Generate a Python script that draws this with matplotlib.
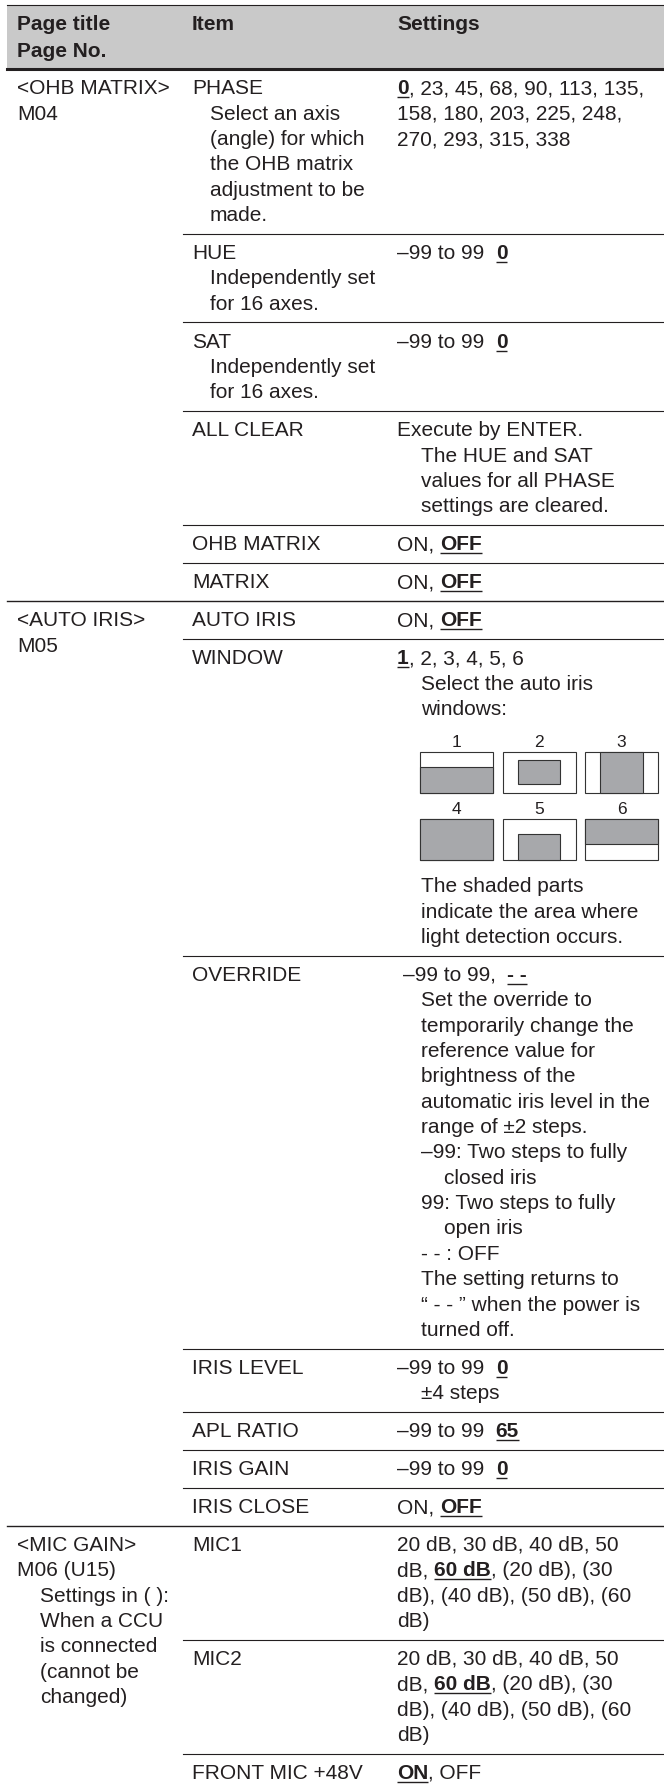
import matplotlib
matplotlib.use("agg")
import matplotlib.pyplot as plt
from matplotlib.font_manager import FontProperties
from matplotlib.patches import Rectangle

# ---- table content -------------------------------------------------------
header = [["Page title", "Page No."], ["Item"], ["Settings"]]

page_titles = [
    ["<OHB MATRIX>", "M04"],
    ["<AUTO IRIS>", "M05"],
    ["<MIC GAIN>", "M06 (U15)", "\tSettings in ( ):", "\tWhen a CCU",
     "\tis connected", "\t(cannot be", "\tchanged)"],
]
rows_per_page = [6, 7, 3]

items = [
    ["PHASE", "\tSelect an axis", "\t(angle) for which", "\tthe OHB matrix",
     "\tadjustment to be", "\tmade."],
    ["HUE", "\tIndependently set", "\tfor 16 axes."],
    ["SAT", "\tIndependently set", "\tfor 16 axes."],
    ["ALL CLEAR"],
    ["OHB MATRIX"],
    ["MATRIX"],
    ["AUTO IRIS"],
    ["WINDOW"],
    ["OVERRIDE"],
    ["IRIS LEVEL"],
    ["APL RATIO"],
    ["IRIS GAIN"],
    ["IRIS CLOSE"],
    ["MIC1"],
    ["MIC2"],
    ["FRONT MIC +48V"],
]

# "**x**" marks the bold, underlined default value
settings = [
    ["**0**, 23, 45, 68, 90, 113, 135,", "158, 180, 203, 225, 248,",
     "270, 293, 315, 338"],
    ["\u201399 to 99  **0**"],
    ["\u201399 to 99  **0**"],
    ["Execute by ENTER.", "\tThe HUE and SAT", "\tvalues for all PHASE",
     "\tsettings are cleared."],
    ["ON, **OFF**"],
    ["ON, **OFF**"],
    ["ON, **OFF**"],
    ["**1**, 2, 3, 4, 5, 6", "\tSelect the auto iris", "\twindows:",
     "", "", "", "", "", "",
     "\tThe shaded parts", "\tindicate the area where", "\tlight detection occurs."],
    [" \u201399 to 99,  **- -**", "\tSet the override to", "\ttemporarily change the",
     "\treference value for", "\tbrightness of the", "\tautomatic iris level in the",
     "\trange of \u00b12 steps.", "\t\u201399: Two steps to fully", "\t\tclosed iris",
     "\t99: Two steps to fully", "\t\topen iris", "\t- - : OFF",
     "\tThe setting returns to", "\t\u201c - - \u201d when the power is", "\tturned off."],
    ["\u201399 to 99  **0**", "\t\u00b14 steps"],
    ["\u201399 to 99  **65**"],
    ["\u201399 to 99  **0**"],
    ["ON, **OFF**"],
    ["20 dB, 30 dB, 40 dB, 50", "dB, **60 dB**, (20 dB), (30",
     "dB), (40 dB), (50 dB), (60", "dB)"],
    ["20 dB, 30 dB, 40 dB, 50", "dB, **60 dB**, (20 dB), (30",
     "dB), (40 dB), (50 dB), (60", "dB)"],
    ["**ON**, OFF"],
]

# auto iris window sketches: shaded part as (x0, y0, x1, y1) fractions, y from top
window_labels = ["1", "2", "3", "4", "5", "6"]
window_shade = [(0, .37, 1, 1), (.21, .2, .79, .78), (.21, 0, .79, 1),
                (0, 0, 1, 1), (.21, .36, .79, 1), (0, 0, 1, .6)]
window_row = 7          # WINDOW row index
window_anchor_line = 2  # "windows:" line

# ---- layout (pixels) -----------------------------------------------------
W, H = 664, 1785
FONT = ["Liberation Sans", "DejaVu Sans"]
FS = 15
INK = "#231f20"
HEAD_GRAY = "#c9c9c9"
SHADE = "#a7a8ab"

col_x = [17, 192, 397]
indent = [[0, 23, 46], [0, 18, 36], [0, 24, 47]]
LINE = 25.35
ROW_PAD = 12.6
BASE_OFF = 25.3
HEAD_BOTTOM = 69
LEFT = 7
PART_LEFT = 183

fig = plt.figure(figsize=(W / 100, H / 100), dpi=100)
ax = fig.add_axes([0, 0, 1, 1])
ax.set_xlim(0, W)
ax.set_ylim(H, 0)
ax.axis("off")
renderer = fig.canvas.get_renderer()

props = {w: FontProperties(family=FONT, size=FS, weight=w) for w in ("normal", "bold")}
label_prop = FontProperties(family=FONT, size=12.5)


def text_width(s, weight):
    prop = props[weight]
    w1 = renderer.get_text_width_height_descent(s + "|", prop, ismath=False)[0]
    w0 = renderer.get_text_width_height_descent("|", prop, ismath=False)[0]
    return w1 - w0


def draw_line(col, y, s):
    level = len(s) - len(s.lstrip("\t"))
    s = s.lstrip("\t")
    x = col_x[col] + indent[col][level]
    for i, part in enumerate(s.split("**")):
        if not part:
            continue
        weight = "bold" if i % 2 else "normal"
        lead = len(part) - len(part.lstrip(" "))
        x0 = x + (text_width(" " * lead, weight) if lead else 0)
        ax.text(x0, y, part.lstrip(" "), fontproperties=props[weight],
                color=INK, ha="left", va="baseline")
        w = text_width(part, weight)
        if i % 2:
            ax.plot([x, x + w], [y + 3, y + 3], color=INK, lw=1.0,
                    solid_capstyle="butt")
        x += w


# header band
ax.add_patch(Rectangle((LEFT, 5), W - LEFT, HEAD_BOTTOM - 5, facecolor=HEAD_GRAY,
                       edgecolor="none"))
ax.plot([LEFT, W], [5, 5], color=INK, lw=0.8)
ax.plot([LEFT, W], [HEAD_BOTTOM, HEAD_BOTTOM], color=INK, lw=2.2)
for c, lines in enumerate(header):
    for k, s in enumerate(lines):
        ax.text(col_x[c], 30 + k * 27, s, fontproperties=props["bold"], color=INK,
                ha="left", va="baseline")

# body rows
y = HEAD_BOTTOM
row = 0
for g, n_rows in enumerate(rows_per_page):
    for k, s in enumerate(page_titles[g]):
        draw_line(0, y + BASE_OFF + k * LINE, s)
    for r in range(n_rows):
        top = y
        for k, s in enumerate(items[row]):
            draw_line(1, top + BASE_OFF + k * LINE, s)
        for k, s in enumerate(settings[row]):
            if s:
                draw_line(2, top + BASE_OFF + k * LINE, s)
        n = max(len(items[row]), len(settings[row]))
        if row == window_row:
            base = top + BASE_OFF + window_anchor_line * LINE
            bx0 = col_x[2] + indent[2][1] - 1
            for j, lab in enumerate(window_labels):
                cx = bx0 + (j % 3) * 82.5
                by = base + 37 + (j // 3) * 67
                bh = 41.5
                ax.text(cx + 36.5, by - 4.5, lab, fontproperties=label_prop,
                        color=INK, ha="center", va="baseline")
                ax.add_patch(Rectangle((cx, by), 73, bh, facecolor="white",
                                       edgecolor="#333333", lw=0.8))
                sx0, sy0, sx1, sy1 = window_shade[j]
                ax.add_patch(Rectangle((cx + sx0 * 73, by + sy0 * bh), (sx1 - sx0) * 73,
                                       (sy1 - sy0) * bh, facecolor=SHADE,
                                       edgecolor="#333333", lw=0.8))
        y = top + ROW_PAD + n * LINE
        row += 1
        last = r == n_rows - 1
        if g == len(rows_per_page) - 1 and last:
            continue
        ax.plot([LEFT if last else PART_LEFT, W], [y, y], color=INK,
                lw=1.0 if last else 0.8)

fig.savefig("out.png", dpi=100)
